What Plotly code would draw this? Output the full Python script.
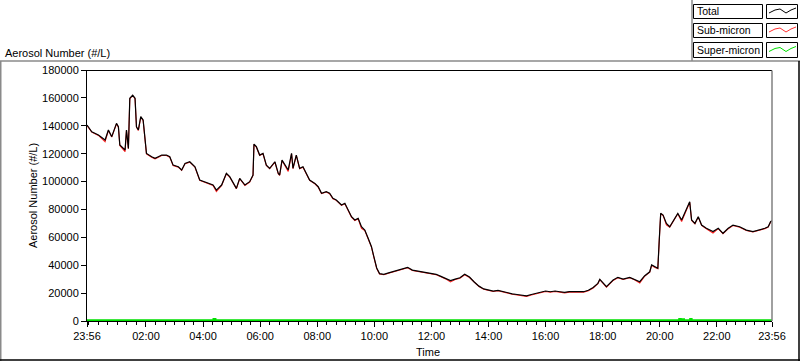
import plotly.graph_objects as go
from datetime import datetime

# ---------------- data ----------------
times = ["23:56","00:06","00:20","00:34","00:41","00:48","00:58","01:02","01:05","01:12",
         "01:16","01:19","01:23","01:26","01:32","01:37","01:40","01:44","01:49","01:54",
         "01:58","02:01","02:12","02:19","02:26","02:33","02:43","02:50","02:57","03:08",
         "03:15","03:22","03:32","03:43","03:53","04:04","04:14","04:21","04:28","04:39",
         "04:49","04:56","05:10","05:17","05:28","05:38","05:45","05:47","05:52","05:59",
         "06:06","06:13","06:20","06:31","06:38","06:41","06:46","06:52","06:59","07:06",
         "07:09","07:16","07:23","07:30","07:37","07:44","07:55","08:02","08:09","08:19",
         "08:26","08:33","08:40","08:51","08:58","09:05","09:12","09:19","09:26","09:33",
         "09:40","09:47","09:54","09:59","10:05","10:11","10:20","10:30","10:40","10:50",
         "11:00","11:10","11:20","11:30","11:40","11:50","12:00","12:10","12:20","12:30",
         "12:40","12:50","13:00","13:10","13:20","13:30","13:40","13:50","14:00","14:10",
         "14:20","14:30","14:40","14:50","15:00","15:10","15:20","15:30","15:40","15:50",
         "16:00","16:10","16:20","16:30","16:40","16:50","17:00","17:10","17:20","17:30",
         "17:40","17:50","17:54","18:08","18:22","18:32","18:43","18:57","19:07","19:18",
         "19:28","19:39","19:43","19:49","19:56","19:59","20:02","20:07","20:14","20:21",
         "20:28","20:38","20:46","20:55","21:03","21:07","21:14","21:21","21:28","21:38",
         "21:52","22:03","22:13","22:24","22:34","22:48","23:02","23:16","23:30","23:41",
         "23:48","23:53","23:56"]

total = [140500,135700,133400,129800,137000,132200,141700,139300,126200,123800,
         122600,137000,123800,159700,162000,159700,139300,137000,146500,144100,
         127400,120200,117800,116600,117800,119000,119000,117800,111800,110600,
         108300,113000,114200,110600,101100,99900,98700,97500,93900,97500,
         105900,103500,95100,102300,97500,99900,104700,126900,125000,119000,
         120200,111800,109500,114200,105900,104700,115400,111800,108300,120200,
         109500,119000,109500,110600,105900,101100,98700,96300,91600,92800,
         91600,88000,86800,83200,84400,79600,74800,72400,73600,67600,
         65200,59300,53300,46100,38000,34000,33500,34500,35500,36000,
         37500,38500,36500,36000,35500,34500,34000,33500,32000,30500,
         29000,30000,31000,33500,31500,28000,25000,23000,22000,21500,
         22000,21000,20000,19500,19000,18500,18000,19000,20000,21000,
         21500,21000,21500,21000,20500,21000,21000,20500,21000,22000,
         24000,27000,29900,24600,29400,31300,30100,31300,29900,28200,
         32300,35300,40200,38900,37800,58100,77200,76000,70000,67600,
         71200,77200,72400,79600,85500,72400,70000,74800,68800,66500,
         64100,66500,62900,66500,68800,67600,65200,64100,65200,66500,
         67600,71200,72000]

sub_micron = [140200,135400,133100,128600,136700,131900,141400,139000,125900,123500,
              121400,136700,123500,159400,161700,159400,139000,136700,146200,143800,
              127100,119900,117500,116300,117500,118700,118700,117500,111500,110300,
              108000,112700,113900,110300,100800,99600,98400,97200,92800,97200,
              105600,103200,94800,102000,97200,99600,104400,126600,124700,118700,
              119900,111500,109200,113900,105600,104400,115100,111500,107200,119900,
              109200,118700,109200,110300,105600,100800,98400,96000,91300,92500,
              91300,87700,86500,82900,84100,79300,74500,72100,73300,66500,
              64900,59000,53000,45800,37700,33700,33200,34200,35200,35700,
              37200,38200,36200,35700,35200,34200,33700,33200,31700,30200,
              28000,29700,30700,33200,31200,27700,24700,22700,21700,21200,
              21700,20700,19700,19200,18700,18200,17700,18700,19700,20700,
              21200,20700,21200,20700,20200,20700,20700,20200,20700,21700,
              23700,26700,29600,24300,29100,31000,29800,31000,29600,27300,
              32000,35000,39900,38600,37500,57800,76900,75700,69000,67300,
              70900,76900,71400,79300,85200,72100,69700,74500,68500,66200,
              63100,66200,62600,66200,68500,67300,64900,63800,64900,66200,
              67300,70900,71700]

super_times = ["23:56","04:18","04:22","04:26","20:38","20:41","20:44","20:48","20:51",
               "21:02","21:04","21:07","23:56"]
super_micron = [450,450,1500,450,450,1400,450,1300,450,450,1400,450,450]

major_ticks = ["23:56","02:00","04:00","06:00","08:00","10:00","12:00","14:00",
               "16:00","18:00","20:00","22:00","23:56"]
y_ticks = [0,20000,40000,60000,80000,100000,120000,140000,160000,180000]


def to_dt(lst):
    out, day, prev = [], 1, None
    for s in lst:
        h, m = map(int, s.split(":"))
        mins = h * 60 + m
        if prev is not None and mins < prev:
            day += 1
        prev = mins
        out.append(datetime(2000, 1, day, h, m))
    return out

t_total = to_dt(times)
t_super = to_dt(super_times)
t_major = to_dt(major_ticks)

# ---------------- figure ----------------
W, H = 800, 361
L, R, T, B = 87, 772, 70, 321  # plot area in pixels


def px(x):
    return (x - L) / (R - L)


def py(y):
    return (B - y) / (B - T)

FONT = "Liberation Sans"

fig = go.Figure()
fig.add_trace(go.Scatter(x=t_super, y=super_micron, mode="lines", name="Super-micron",
                         line=dict(color="#00e000", width=2), line_shape="hv"))
fig.add_trace(go.Scatter(x=t_total, y=sub_micron, mode="lines", name="Sub-micron",
                         line=dict(color="#ff2020", width=1.1)))
fig.add_trace(go.Scatter(x=t_total, y=total, mode="lines", name="Total",
                         line=dict(color="#000000", width=1.2)))

fig.update_layout(
    width=W, height=H,
    margin=dict(l=L, r=W - R, t=T, b=H - B, pad=0),
    paper_bgcolor="white", plot_bgcolor="white",
    showlegend=False,
    font=dict(family=FONT, size=11, color="black"),
    xaxis=dict(
        range=[t_major[0], t_major[-1]],
        tickvals=t_major, ticktext=major_ticks,
        ticks="outside", ticklen=5, tickwidth=1, tickcolor="black",
        showgrid=False, zeroline=False,
        showline=True, linecolor="black", linewidth=1,
        minor=dict(ticks="outside", ticklen=3, tickwidth=1, tickcolor="black",
                   tick0=datetime(2000, 1, 2, 0, 0), dtick=20 * 60 * 1000, showgrid=False),
        tickfont=dict(family=FONT, size=11),
    ),
    yaxis=dict(
        range=[0, 180000],
        tickvals=y_ticks, ticktext=[str(v) for v in y_ticks],
        ticks="outside", ticklen=5, tickwidth=1, tickcolor="black",
        showgrid=False, zeroline=False,
        showline=True, linecolor="black", linewidth=1,
        tickfont=dict(family=FONT, size=11),
    ),
)

shapes = []
def line(x0, y0, x1, y1, color, width=1):
    shapes.append(dict(type="line", xref="paper", yref="paper",
                       x0=px(x0), y0=py(y0), x1=px(x1), y1=py(y1),
                       line=dict(color=color, width=width), layer="above"))

# plot frame (top black, right gray)
line(86.5, 70.5, 772, 70.5, "black")
line(772, 70.5, 772, 321, "#808080", 1.5)
# outer panel frame
line(0, 61, 800, 61, "#8a8a8a", 1.5)
line(0.75, 61, 0.75, 361, "#8a8a8a", 1.5)
line(0, 360, 800, 360, "black", 1.5)
line(799, 61, 799, 361, "black", 1.5)
# legend frame
line(692, 0, 692, 61, "#8a8a8a", 1.5)

annotations = []
rows = [("Total", "black", 4, 18), ("Sub-micron", "#ff3030", 23, 37), ("Super-micron", "#00e000", 42, 57)]
for name, col, y0, y1 in rows:
    shapes.append(dict(type="rect", xref="paper", yref="paper",
                       x0=px(693.5), x1=px(762.5), y0=py(y0 + 0.5), y1=py(y1 + 0.5),
                       line=dict(color="black", width=1), fillcolor="white"))
    shapes.append(dict(type="rect", xref="paper", yref="paper",
                       x0=px(766.5), x1=px(797.5), y0=py(y0 + 0.5), y1=py(y1 + 0.5),
                       line=dict(color="black", width=1), fillcolor="white"))
    ym = (y0 + y1) / 2
    pts = [(769, ym + 2), (775, ym - 1), (780, ym - 2), (786, ym + 2), (791, ym - 1), (796, ym - 3)]
    path = "M " + " L ".join(f"{px(a):.5f},{py(b):.5f}" for a, b in pts)
    shapes.append(dict(type="path", xref="paper", yref="paper", path=path,
                       line=dict(color=col, width=1)))
    annotations.append(dict(text=name, xref="paper", yref="paper", x=px(695), y=py(ym + 0.5),
                            xanchor="left", yanchor="middle", showarrow=False,
                            font=dict(family=FONT, size=10.5, color="black")))

annotations.append(dict(text="Aerosol Number (#/L)", xref="paper", yref="paper",
                        x=px(3), y=py(53), xanchor="left", yanchor="middle", showarrow=False,
                        font=dict(family=FONT, size=11)))
annotations.append(dict(text="Aerosol Number (#/L)", xref="paper", yref="paper",
                        x=px(33), y=py(196), xanchor="center", yanchor="middle", showarrow=False,
                        textangle=-90, font=dict(family=FONT, size=11)))
annotations.append(dict(text="Time", xref="paper", yref="paper",
                        x=px(428), y=py(352), xanchor="center", yanchor="middle", showarrow=False,
                        font=dict(family=FONT, size=11)))

fig.update_layout(shapes=shapes, annotations=annotations)
fig.write_html("out.html",
               config={"displayModeBar": False, "staticPlot": True},
               post_script="document.body.style.margin='0';document.body.style.padding='0';")
